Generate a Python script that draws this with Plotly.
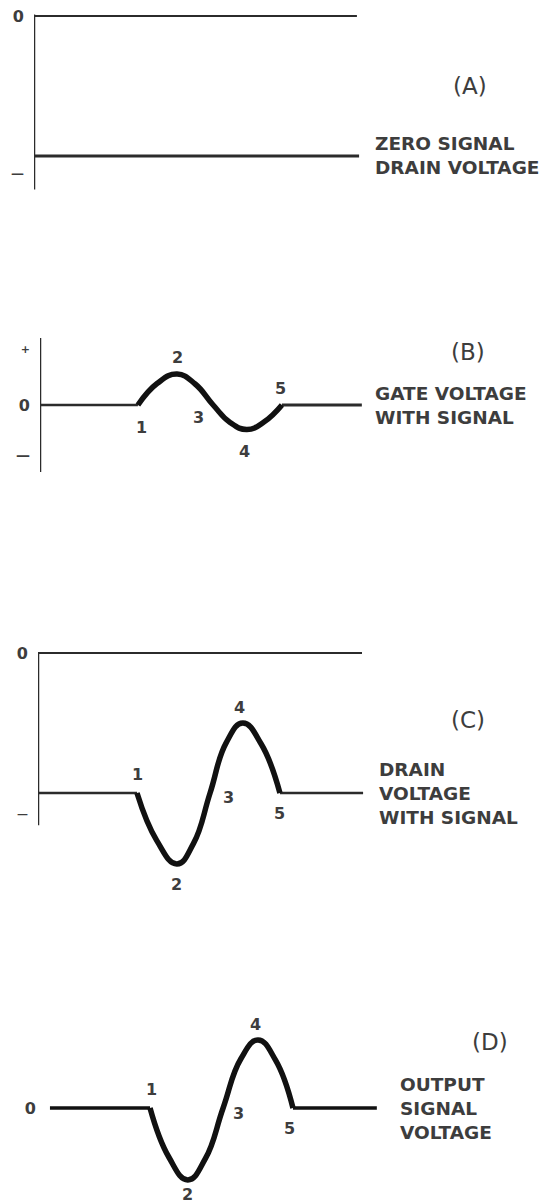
import plotly.graph_objects as go

# ---------------- data (time in quarter-cycle units, voltage in arbitrary units) -------------
# Panel A : zero-signal drain voltage
a_ref_t = [0.0, 8.97]
a_ref_v = [0.0, 0.0]
a_bias_t = [0.0, 9.03]
a_bias_v = [-10.0, -10.0]
a_axis_v = [0.1, -12.4]
a_tick_v = [0, -11.2]
a_tick_text = ["0", "<span style='font-size:13px'>—</span>"]

# Panel B : gate voltage with signal
b_pre_t = [0.0, 2.72]
b_post_t = [6.72, 8.94]
b_rest_v = 0.0
b_wave_t = [2.72, 3.26, 3.81, 4.31, 4.81, 5.28, 5.75, 6.23, 6.72]
b_wave_v = [0.0, 1.55, 2.21, 1.5, 0.0, -1.25, -1.75, -1.2, 0.0]
b_axis_v = [4.79, -4.79]
b_tick_v = [4.14, 0, -3.5]
b_tick_text = ["<span style='font-size:11px'>+</span>", "0",
               "<span style='font-size:14px'>—</span>"]
b_lab_t = [2.83, 3.81, 4.39, 5.69, 6.67]
b_lab_v = [-1.64, 3.36, -0.86, -3.29, 1.21]

# Panel C : drain voltage with signal
c_ref_t = [0.0, 9.0]
c_ref_v = [0.0, 0.0]
c_pre_t = [0.0, 2.75]
c_post_t = [6.72, 9.03]
c_rest_v = -10.0
c_wave_t = [2.75, 3.30, 3.86, 4.32, 4.78, 5.23, 5.69, 6.20, 6.72]
c_wave_v = [-10.0, -13.4, -15.07, -13.6, -10.0, -6.4, -5.0, -6.5, -10.0]
c_axis_v = [0.0, -12.3]
c_tick_v = [0, -11.36]
c_tick_text = ["0", "<span style='font-size:11px'>—</span>"]
c_lab_t = [2.75, 3.86, 5.28, 5.61, 6.72]
c_lab_v = [-8.71, -16.57, -10.29, -3.86, -11.43]

# Panel D : output signal voltage
d_pre_t = [0.11, 2.89]
d_post_t = [6.86, 9.19]
d_rest_v = 0.0
d_wave_t = [2.89, 3.41, 3.94, 4.43, 4.92, 5.41, 5.89, 6.38, 6.86]
d_wave_v = [0.0, -3.5, -5.14, -3.6, 0.0, 3.5, 4.86, 3.4, 0.0]
d_tick_v = [0]
d_tick_text = ["0"]
d_lab_t = [2.92, 3.94, 5.36, 5.83, 6.75]
d_lab_v = [1.29, -6.2, -0.36, 6.0, -1.43]

point_names = ["1", "2", "3", "4", "5"]

panel_letters = ["(A)", "(B)", "(C)", "(D)"]
panel_captions = ["ZERO SIGNAL<br>DRAIN VOLTAGE",
                  "GATE VOLTAGE<br>WITH SIGNAL",
                  "DRAIN<br>VOLTAGE<br>WITH SIGNAL",
                  "OUTPUT<br>SIGNAL<br>VOLTAGE"]

# ---------------- layout geometry ----------------
W, H = 546, 1204
PX_T, PX_V = 36.0, 14.0
T_MAX = 13.5
geom = [  # left px of time origin, px of v = 0, voltage range
    dict(x0=34, y0=16, vr=[-13.0, 1.0], letter=(12.11, -5.0), cap=(9.42, -10.0)),
    dict(x0=40, y0=405, vr=[-5.5, 5.5], letter=(11.89, 3.79), cap=(9.25, 0.0)),
    dict(x0=38, y0=653, vr=[-17.5, 1.0], letter=(11.94, -4.79), cap=(9.42, -10.0)),
    dict(x0=46, y0=1108, vr=[-6.8, 7.0], letter=(12.33, 4.71), cap=(9.78, 0.0)),
]

THIN = "#2b2b2b"
INK = "#111111"
TXT = "#3d3d3d"
FONT = "DejaVu Sans"

fig = go.Figure()
layout = {}
ticks = [(a_tick_v, a_tick_text), (b_tick_v, b_tick_text),
         (c_tick_v, c_tick_text), (d_tick_v, d_tick_text)]

for i, g in enumerate(geom):
    n = "" if i == 0 else str(i + 1)
    x_dom = [g["x0"] / W, (g["x0"] + T_MAX * PX_T) / W]
    top = g["y0"] - g["vr"][1] * PX_V
    bot = g["y0"] - g["vr"][0] * PX_V
    y_dom = [1 - bot / H, 1 - top / H]
    layout["xaxis" + n] = dict(domain=x_dom, range=[0, T_MAX], visible=False,
                               anchor="y" + n, fixedrange=True)
    layout["yaxis" + n] = dict(domain=y_dom, range=g["vr"], anchor="x" + n,
                               showgrid=False, zeroline=False, showline=False,
                               ticks="", tickvals=ticks[i][0], ticktext=ticks[i][1],
                               ticklabelstandoff=9,
                               tickfont=dict(family=FONT, size=16, color=TXT, weight="bold"),
                               fixedrange=True)


def line(t, v, k, width, color):
    n = "" if k == 0 else str(k + 1)
    fig.add_trace(go.Scatter(x=t, y=v, mode="lines", xaxis="x" + n, yaxis="y" + n,
                             line=dict(color=color, width=width), hoverinfo="skip",
                             showlegend=False))


def wave(t, v, k, width):
    n = "" if k == 0 else str(k + 1)
    fig.add_trace(go.Scatter(x=t, y=v, mode="lines", xaxis="x" + n, yaxis="y" + n,
                             line=dict(color=INK, width=width, shape="spline", smoothing=1.3),
                             hoverinfo="skip", showlegend=False))


# Panel A
line([0, 0], a_axis_v, 0, 2.5, THIN)
line(a_ref_t, a_ref_v, 0, 2.2, THIN)
line(a_bias_t, a_bias_v, 0, 2.8, THIN)
# Panel B
line([0, 0], b_axis_v, 1, 2.5, THIN)
line(b_pre_t, [b_rest_v] * 2, 1, 2.5, THIN)
line(b_post_t, [b_rest_v] * 2, 1, 2.8, THIN)
wave(b_wave_t, b_wave_v, 1, 5.5)
# Panel C
line([0, 0], c_axis_v, 2, 2.5, THIN)
line(c_ref_t, c_ref_v, 2, 2.2, THIN)
line(c_pre_t, [c_rest_v] * 2, 2, 2.5, THIN)
line(c_post_t, [c_rest_v] * 2, 2, 2.5, THIN)
wave(c_wave_t, c_wave_v, 2, 5.5)
# Panel D
line(d_pre_t, [d_rest_v] * 2, 3, 3.5, INK)
line(d_post_t, [d_rest_v] * 2, 3, 3.5, INK)
wave(d_wave_t, d_wave_v, 3, 5.5)

annotations = []
labs = [None, (b_lab_t, b_lab_v), (c_lab_t, c_lab_v), (d_lab_t, d_lab_v)]
for i, g in enumerate(geom):
    n = "" if i == 0 else str(i + 1)
    annotations.append(dict(x=g["letter"][0], y=g["letter"][1], xref="x" + n, yref="y" + n,
                            text=panel_letters[i], showarrow=False,
                            font=dict(family=FONT, size=23, color=TXT)))
    annotations.append(dict(x=g["cap"][0], y=g["cap"][1], xref="x" + n, yref="y" + n,
                            text=panel_captions[i], showarrow=False, xanchor="left",
                            yanchor="middle", align="left",
                            font=dict(family=FONT, size=18.5, color=TXT, weight="bold")))
    if labs[i] is not None:
        for name, t, v in zip(point_names, labs[i][0], labs[i][1]):
            annotations.append(dict(x=t, y=v, xref="x" + n, yref="y" + n, text=name,
                                    showarrow=False,
                                    font=dict(family=FONT, size=16, color=TXT, weight="bold")))

fig.update_layout(**layout)
fig.update_layout(width=W, height=H, margin=dict(l=0, r=0, t=0, b=0),
                  paper_bgcolor="white", plot_bgcolor="white",
                  annotations=annotations, showlegend=False)

fig.write_html("out.html", config={"displayModeBar": False},
               post_script="document.body.style.margin='0px';")
